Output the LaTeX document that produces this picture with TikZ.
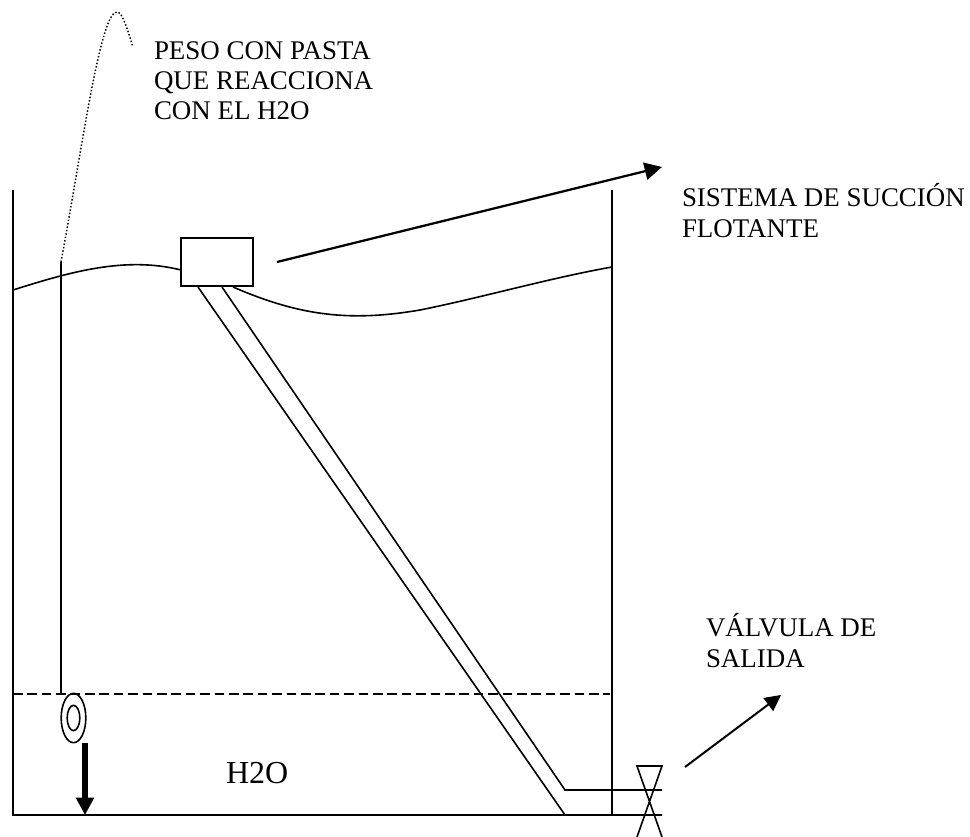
\documentclass[tikz,border=0pt]{standalone}
\usepackage{fontspec}
\setmainfont{Liberation Serif}
\usetikzlibrary{arrows.meta,shapes.geometric}
\tikzset{
  ln/.style={draw=black,line width=1.2pt},
  lbl/.style={anchor=base west,inner sep=0pt,outer sep=0pt,font=\fontsize{20.2pt}{24pt}\selectfont},
  bigarrow/.style={ln,line width=1.7pt,-{Triangle[length=13pt,width=13pt]}},
  thinarrow/.style={ln,line width=1.5pt,-{Triangle[length=12pt,width=12pt]}}
}
\begin{document}
\begin{tikzpicture}[x=0.75pt,y=-0.75pt]
\useasboundingbox (0,0) rectangle (970,837);
% tank
\coordinate (wlt) at (13,190);
\coordinate (wlb) at (13,815);
\coordinate (wrt) at (612,190);
\coordinate (wrb) at (612,815);
\draw[ln] (wlt) -- (wlb) -- (wrb) -- (wrt);
% floating box
\node[ln,minimum width=54pt,minimum height=36pt,inner sep=0pt,outer sep=0pt,anchor=north west] (box) at (181,238) {};
% water surface
\coordinate (sl) at (13,290);
\coordinate (sr) at (612,267);
\coordinate (sb) at (233,287);
\coordinate (bw) at (181,270);
\draw[ln] (sl) .. controls (70,272) and (125,256) .. (bw);
\draw[ln] (sb) .. controls (300,316) and (350,322) .. (420,310) .. controls (480,298) and (550,278) .. (sr);
% lower level
\coordinate (dl) at (13,694);
\coordinate (dr) at (610,694);
\draw[ln,dash pattern=on 7.2pt off 3.6pt] (dl) -- (dr);
% string
\coordinate (st) at (61,262);
\coordinate (sbm) at (61,694);
\coordinate (de) at (133,47);
\draw[ln] (st) -- (sbm);
\draw[line width=1.1pt,dash pattern=on 1.1pt off 1.5pt] (st) .. controls (82,150) and (100,12) .. (117,12) .. controls (123,12) and (128,32) .. (de);
% weight
\node[ln,ellipse,minimum width=18.5pt,minimum height=37pt,inner sep=0pt] (w1) at (73.5,718) {};
\node[ln,ellipse,minimum width=9.5pt,minimum height=19pt,inner sep=0pt] (w2) at (73.5,718) {};
\coordinate (as) at (85,743);
\coordinate (ae) at (85,815);
\draw[line width=4.5pt,-{Triangle[length=13pt,width=13pt]}] (as) -- (ae);
% tube
\coordinate (t1) at (198,287);
\coordinate (t2) at (222,287);
\coordinate (t3) at (565,790);
\coordinate (t4) at (565,815);
\coordinate (t5) at (662,790);
\coordinate (t6) at (662,815);
\draw[ln] (t1) -- (t4) -- (t6);
\draw[ln] (t2) -- (t3) -- (t5);
% valve
\coordinate (v1) at (637,766);
\coordinate (v2) at (662,766);
\coordinate (v3) at (662,837);
\coordinate (v4) at (637,837);
\draw[ln] (v4) -- (v2) -- (v1) -- (v3);
% arrows
\coordinate (a1s) at (277,262);
\coordinate (a1e) at (662,167);
\draw[bigarrow] (a1s) -- (a1e);
\coordinate (a2s) at (685,767);
\coordinate (a2e) at (781,695);
\draw[thinarrow] (a2s) -- (a2e);
% labels
\node[lbl] (l1) at (154,60) {PESO CON PASTA};
\node[lbl] (l2) at (154,90) {QUE REACCIONA};
\node[lbl] (l3) at (154,119.5) {CON EL H2O};
\node[lbl] (l4) at (682,207) {SISTEMA DE SUCCIÓN};
\node[lbl] (l5) at (682,238) {FLOTANTE};
\node[lbl] (l6) at (706,636) {VÁLVULA DE};
\node[lbl] (l7) at (706,667) {SALIDA};
\node[lbl,font=\fontsize{24pt}{28pt}\selectfont] (l8) at (226,783) {H2O};
\end{tikzpicture}
\end{document}
